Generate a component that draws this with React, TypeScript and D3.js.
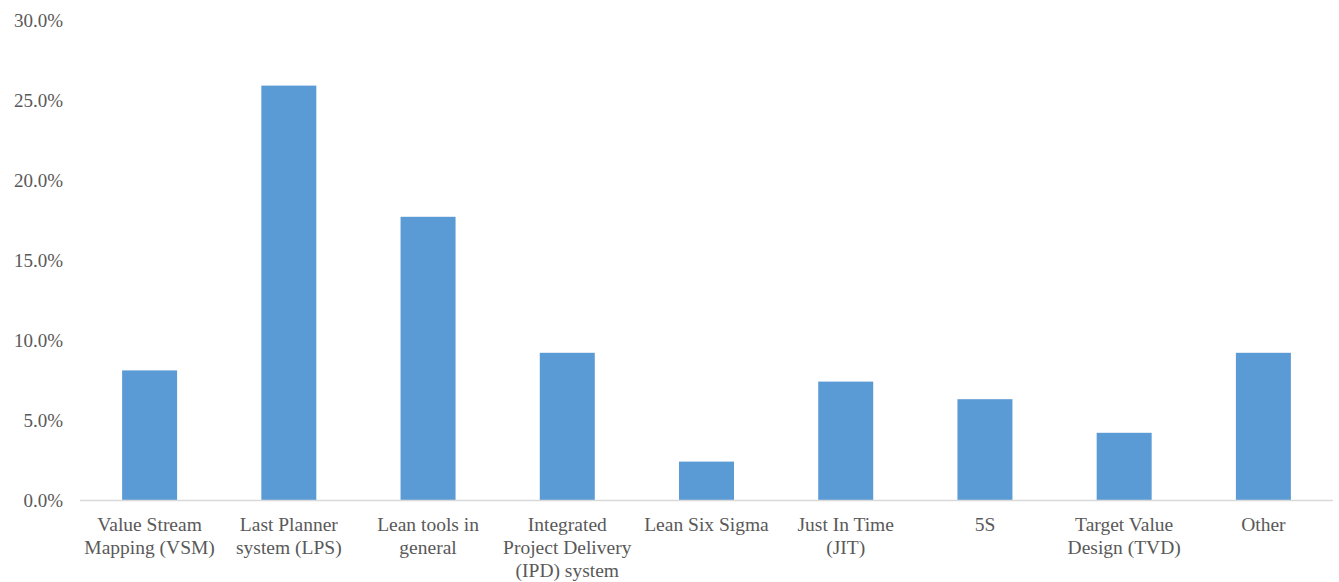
import React from "react";
import * as d3 from "d3";

const categories: string[][] = [
  ["Value Stream", "Mapping (VSM)"],
  ["Last Planner", "system (LPS)"],
  ["Lean tools in", "general"],
  ["Integrated", "Project Delivery", "(IPD) system"],
  ["Lean Six Sigma"],
  ["Just In Time", "(JIT)"],
  ["5S"],
  ["Target Value", "Design (TVD)"],
  ["Other"],
];
const values: number[] = [8.1, 25.9, 17.7, 9.2, 2.4, 7.4, 6.3, 4.2, 9.2];
const yTicks: number[] = [0, 5, 10, 15, 20, 25, 30];

const W = 1339;
const H = 582;
const left = 80;
const right = 1333;
const top = 20;
const bottom = 500;
const font = "'Liberation Serif', 'Times New Roman', serif";
const textColor = "#595959";

export default function App() {
  const ids = categories.map((_, i) => String(i));
  const x = d3.scaleBand<string>().domain(ids).range([left, right]).paddingInner(0.605).paddingOuter(0.3025);
  const y = d3.scaleLinear().domain([0, 30]).range([bottom, top]);
  const textStyle = { fontFamily: font, fill: textColor };

  return (
    <svg width={W} height={H} style={{ position: "absolute", left: 0, top: 0, background: "#fff" }}>
      {yTicks.map((t) => (
        <text key={t} x={63} y={y(t)} dy="0.35em" textAnchor="end" fontSize={19} style={textStyle}>
          {t.toFixed(1) + "%"}
        </text>
      ))}
      {values.map((v, i) => (
        <rect key={i} x={x(ids[i])} y={y(v)} width={x.bandwidth()} height={y(0) - y(v)} fill="#5b9bd5" />
      ))}
      <line x1={left} x2={right} y1={bottom + 0.5} y2={bottom + 0.5} stroke="#d9d9d9" strokeWidth={1.5} />
      {categories.map((lines, i) =>
        lines.map((ln, j) => (
          <text
            key={i + "-" + j}
            x={(x(ids[i]) as number) + x.bandwidth() / 2}
            y={531 + j * 23}
            textAnchor="middle"
            fontSize={19.5}
            style={textStyle}
          >
            {ln}
          </text>
        ))
      )}
    </svg>
  );
}
